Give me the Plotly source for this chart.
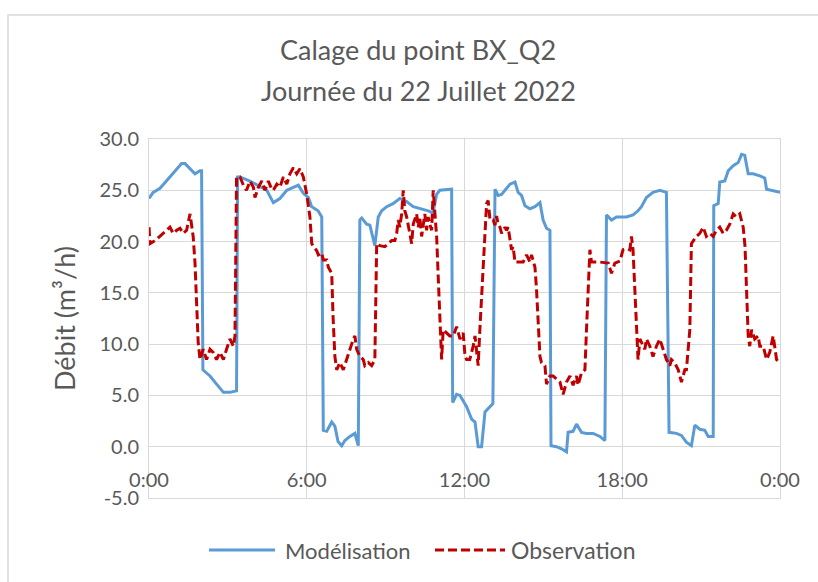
import plotly.graph_objects as go

# Heures (0-24) et débits simulés (m3/h)
model_hours = [0.0, 0.16, 0.42, 0.67, 0.92, 1.24, 1.37, 1.56, 1.75, 1.94, 2.0,
               2.05, 2.32, 2.57, 2.83, 3.08, 3.33, 3.37, 3.46, 3.84, 4.1, 4.48,
               4.73, 4.98, 5.24, 5.49, 5.68, 5.87, 6.06, 6.19, 6.43, 6.57, 6.63,
               6.76, 6.95, 7.07, 7.19, 7.33, 7.45, 7.64, 7.83, 7.96, 8.02, 8.09,
               8.28, 8.4, 8.47, 8.59, 8.72, 8.85, 9.04, 9.28, 9.54, 9.8, 10.05,
               10.37, 10.62, 10.8, 10.94, 11.06, 11.51, 11.55, 11.7, 11.83, 11.95,
               12.08, 12.27, 12.4, 12.52, 12.65, 12.78, 12.89, 13.08, 13.16, 13.28,
               13.41, 13.54, 13.73, 13.92, 14.04, 14.17, 14.3, 14.49, 14.68, 14.87,
               14.99, 15.12, 15.25, 15.29, 15.5, 15.69, 15.88, 15.94, 16.13, 16.26,
               16.45, 16.64, 16.89, 17.15, 17.34, 17.4, 17.59, 17.78, 17.97, 18.16,
               18.41, 18.6, 18.73, 18.92, 19.17, 19.43, 19.68, 19.78, 20.06, 20.25,
               20.44, 20.63, 20.76, 20.95, 21.14, 21.27, 21.46, 21.48, 21.65, 21.71,
               21.9, 22.03, 22.22, 22.41, 22.54, 22.66, 22.79, 22.98, 23.23, 23.42,
               23.49, 23.68, 24.0]
model_flow = [24.2, 24.8, 25.2, 25.9, 26.7, 27.6, 27.6, 27.1, 26.6, 26.9, 26.9,
              7.5, 6.9, 6.1, 5.3, 5.3, 5.45, 26.3, 26.3, 25.9, 25.5, 25.0,
              23.8, 24.2, 25.0, 25.3, 25.5, 24.7, 24.3, 23.4, 23.0, 22.4, 1.6,
              1.5, 2.4, 2.0, 0.5, 0.1, 0.6, 1.0, 1.3, 0.1, 22.1, 22.3,
              21.7, 21.6, 20.8, 19.6, 22.4, 23.0, 23.4, 23.7, 24.2, 23.9, 23.4,
              23.2, 23.0, 22.8, 24.6, 25.0, 25.1, 4.3, 5.1, 5.0, 4.5,
              3.9, 2.7, 2.4, 0.0, 0.0, 3.4, 3.7, 4.2, 25.1, 24.5,
              24.6, 25.0, 25.6, 25.8, 24.8, 24.5, 23.5, 23.2, 23.4, 23.8,
              22.1, 21.3, 21.1, 0.1, 0.0, -0.2, -0.5, 1.4, 1.5, 2.2,
              1.4, 1.3, 1.3, 1.0, 0.6, 22.6, 22.1, 22.4, 22.4, 22.4,
              22.6, 23.0, 23.4, 24.3, 24.8, 25.0, 24.8, 1.4, 1.3, 1.1,
              0.45, 0.1, 2.1, 1.7, 1.6, 1.0, 1.0, 23.5, 23.7, 25.8,
              25.9, 26.9, 27.4, 27.7, 28.5, 28.4, 26.6, 26.6, 26.4, 26.2,
              25.1, 25.0, 24.8]

# Heures (0-24) et débits mesurés (m3/h)
obs_hours = [0.0, 0.04, 0.23, 0.42, 0.67, 0.8, 0.92, 1.05, 1.18, 1.3, 1.43, 1.56,
             1.62, 1.68, 1.75, 1.81, 1.87, 1.94, 2.06, 2.19, 2.32, 2.44, 2.57, 2.7,
             2.83, 2.95, 3.08, 3.21, 3.27, 3.33, 3.46, 3.59, 3.71, 3.84, 3.97, 4.03,
             4.16, 4.29, 4.41, 4.54, 4.67, 4.73, 4.86, 4.98, 5.11, 5.24, 5.36, 5.49,
             5.62, 5.74, 5.87, 6.0, 6.12, 6.19, 6.31, 6.38, 6.44, 6.57, 6.63, 6.76,
             6.82, 6.95, 7.0, 7.07, 7.14, 7.26, 7.39, 7.51, 7.64, 7.77, 7.83, 7.9,
             8.02, 8.15, 8.21, 8.34, 8.47, 8.59, 8.66, 8.78, 8.97, 9.1, 9.23, 9.35,
             9.42, 9.48, 9.54, 9.61, 9.67, 9.73, 9.8, 9.92, 9.99, 10.05, 10.18, 10.24,
             10.3, 10.37, 10.43, 10.49, 10.56, 10.62, 10.68, 10.75, 10.81, 10.87,
             10.94, 11.0, 11.06, 11.13, 11.19, 11.32, 11.44, 11.57, 11.7, 11.83,
             11.95, 12.02, 12.08, 12.2, 12.33, 12.4, 12.46, 12.52, 12.59, 12.65,
             12.71, 12.78, 12.84, 12.9, 12.97, 13.09, 13.16, 13.22, 13.28, 13.35,
             13.41, 13.54, 13.6, 13.66, 13.73, 13.79, 13.85, 13.92, 14.04, 14.23,
             14.36, 14.49, 14.55, 14.68, 14.74, 14.8, 14.87, 14.93, 15.06, 15.12,
             15.25, 15.37, 15.5, 15.63, 15.75, 15.88, 16.01, 16.13, 16.26, 16.32,
             16.45, 16.58, 16.64, 16.71, 16.77, 16.83, 17.15, 17.47, 17.59, 17.72,
             17.91, 18.03, 18.22, 18.29, 18.35, 18.41, 18.48, 18.54, 18.6, 18.67,
             18.73, 18.86, 18.92, 19.05, 19.17, 19.3, 19.43, 19.56, 19.68, 19.81,
             19.87, 19.99, 20.13, 20.25, 20.38, 20.44, 20.57, 20.63, 20.7, 20.82,
             20.95, 21.08, 21.2, 21.33, 21.46, 21.58, 21.71, 21.84, 21.96, 22.09,
             22.22, 22.34, 22.47, 22.6, 22.67, 22.73, 22.79, 22.85, 22.92, 23.04,
             23.17, 23.23, 23.36, 23.49, 23.61, 23.74, 23.8, 23.87, 23.93]
obs_flow = [21.4, 19.8, 20.1, 20.5, 21.1, 21.4, 20.8, 21.1, 21.3, 20.8, 21.1, 22.7,
            21.4, 20.5, 17.9, 14.6, 10.2, 8.5, 9.5, 8.5, 9.5, 9.2, 8.5, 9.2,
            8.5, 9.5, 10.5, 9.8, 10.8, 26.3, 26.3, 25.5, 25.0, 25.9, 25.3, 24.3,
            25.3, 25.9, 25.0, 25.9, 25.1, 25.0, 25.6, 25.3, 26.3, 25.6, 26.6, 27.2,
            26.6, 27.1, 26.3, 24.6, 22.4, 19.8, 19.4, 19.1, 18.7, 18.9, 18.2, 18.2,
            17.5, 16.9, 12.7, 8.8, 7.5, 8.2, 7.5, 8.5, 9.5, 10.5, 10.8, 9.5,
            8.8, 8.5, 7.9, 8.2, 7.9, 8.5, 19.8, 19.6, 19.5, 19.8, 20.1, 20.1,
            20.8, 22.1, 21.4, 22.7, 25.0, 23.0, 22.4, 20.8, 19.8, 21.7, 22.7, 21.4,
            22.4, 20.5, 21.7, 22.7, 21.1, 22.4, 21.7, 21.1, 25.0, 22.4,
            20.5, 16.6, 12.1, 8.5, 11.4, 11.1, 10.8, 10.8, 11.7, 10.5,
            11.1, 8.8, 8.5, 8.5, 9.8, 10.8, 9.5, 7.9, 11.7, 14.6,
            17.9, 21.1, 23.7, 24.0, 22.1, 22.1, 21.6, 22.5, 21.7, 21.4,
            20.8, 21.4, 21.1, 21.4, 20.1, 19.2, 19.5, 18.0, 18.0, 18.0,
            18.7, 18.0, 18.7, 17.5, 15.3, 12.1, 8.8, 8.2, 7.9, 6.1,
            6.9, 6.9, 6.6, 6.3, 5.1, 6.3, 6.9, 6.0, 6.9, 6.0,
            7.2, 7.5, 11.4, 15.3, 19.2, 18.0, 18.0, 17.9, 16.9, 17.9,
            18.1, 19.2, 19.3, 19.2, 20.5, 19.2, 15.6, 11.4, 8.5, 10.5,
            10.2, 9.5, 10.5, 9.8, 8.8, 9.8, 10.5, 9.5, 8.5, 7.9,
            8.5, 8.2, 7.5, 6.3, 7.5, 7.5, 11.4, 19.8, 20.1, 20.5,
            20.8, 21.4, 20.5, 20.8, 20.5, 21.1, 21.4, 20.8, 21.1, 21.7,
            22.7, 22.4, 22.7, 21.4, 19.5, 14.6, 10.8, 9.8, 11.4, 10.5,
            10.8, 9.8, 9.8, 8.5, 9.2, 10.8, 9.5, 8.5, 8.3]

tick_hours = [0, 6, 12, 18, 24]
tick_labels = ["0:00", "6:00", "12:00", "18:00", "0:00"]
flow_ticks = [-5, 0, 5, 10, 15, 20, 25, 30]
flow_labels = ["-5.0", "0.0", "5.0", "10.0", "15.0", "20.0", "25.0", "30.0"]

title_lines = ["Calage du point BX_Q2", "Journée du 22 Juillet 2022"]

BLUE = "#5B9BD5"
RED = "#C00000"
GRID = "#D9D9D9"
TEXT = "#595959"
FONT = "Lato, 'Open Sans', sans-serif"
DASH = "9px,4px"

W, H = 818, 582
L, R, T, B = 149, 38, 139, 84
pw, ph = W - L - R, H - T - B


def px(x):
    return (x - L) / pw


def py(y):
    return (H - B - y) / ph


fig = go.Figure()
fig.add_trace(go.Scatter(x=model_hours, y=model_flow, mode="lines",
                         name="Modélisation", showlegend=False,
                         line=dict(color=BLUE, width=3)))
fig.add_trace(go.Scatter(x=obs_hours, y=obs_flow, mode="lines",
                         name="Observation", showlegend=False,
                         line=dict(color=RED, width=3, dash=DASH)))

shapes = [
    # cadre de la zone de graphique
    dict(type="rect", xref="paper", yref="paper",
         x0=px(8), x1=px(840), y0=py(600), y1=py(15),
         line=dict(color=GRID, width=1.5), layer="below"),
    # légende : échantillons de trait
    dict(type="line", xref="paper", yref="paper",
         x0=px(209), x1=px(275), y0=py(550), y1=py(550),
         line=dict(color=BLUE, width=3)),
    dict(type="line", xref="paper", yref="paper",
         x0=px(435), x1=px(505), y0=py(550), y1=py(550),
         line=dict(color=RED, width=3, dash=DASH)),
]

annotations = [
    dict(text=title_lines[0], xref="paper", yref="paper", x=px(418), y=py(50),
         xanchor="center", yanchor="middle", showarrow=False,
         font=dict(family=FONT, size=27, color=TEXT)),
    dict(text=title_lines[1], xref="paper", yref="paper", x=px(418), y=py(90),
         xanchor="center", yanchor="middle", showarrow=False,
         font=dict(family=FONT, size=27, color=TEXT)),
    dict(text="Modélisation", xref="paper", yref="paper", x=px(283), y=py(550),
         xanchor="left", yanchor="middle", showarrow=False,
         font=dict(family=FONT, size=22, color=TEXT)),
    dict(text="Observation", xref="paper", yref="paper", x=px(509), y=py(550),
         xanchor="left", yanchor="middle", showarrow=False,
         font=dict(family=FONT, size=23, color=TEXT)),
]

fig.update_layout(
    width=W, height=H,
    margin=dict(l=L, r=R, t=T, b=B),
    paper_bgcolor="white", plot_bgcolor="white",
    font=dict(family=FONT, color=TEXT, size=20),
    shapes=shapes, annotations=annotations,
    xaxis=dict(range=[0, 24], tickvals=tick_hours, showticklabels=False,
               showgrid=True, gridcolor=GRID, gridwidth=1, zeroline=False,
               showline=True, linecolor=GRID, mirror=True, ticks=""),
    xaxis2=dict(range=[0, 24], overlaying="x", anchor="free", side="bottom",
                position=5 / 35, tickvals=tick_hours, ticktext=tick_labels,
                showgrid=False, zeroline=False, showline=False, ticks="",
                tickfont=dict(size=20, color=TEXT), ticklabelstandoff=19),
    yaxis=dict(range=[-5, 30], tickvals=flow_ticks, ticktext=flow_labels,
               showgrid=True, gridcolor=GRID, gridwidth=1,
               zeroline=True, zerolinecolor=GRID, zerolinewidth=1,
               showline=True, linecolor=GRID, mirror=True, ticks="",
               ticklabelstandoff=5,
               title=dict(text="Débit (m³/h)", standoff=16,
                          font=dict(size=27, color=TEXT)),
               tickfont=dict(size=20, color=TEXT)),
)

# axe portant les libellés horaires, placé sur la ligne y = 0
fig.add_trace(go.Scatter(x=[0, 24], y=[None, None], xaxis="x2",
                         showlegend=False, hoverinfo="skip"))

fig.write_html("out.html")
